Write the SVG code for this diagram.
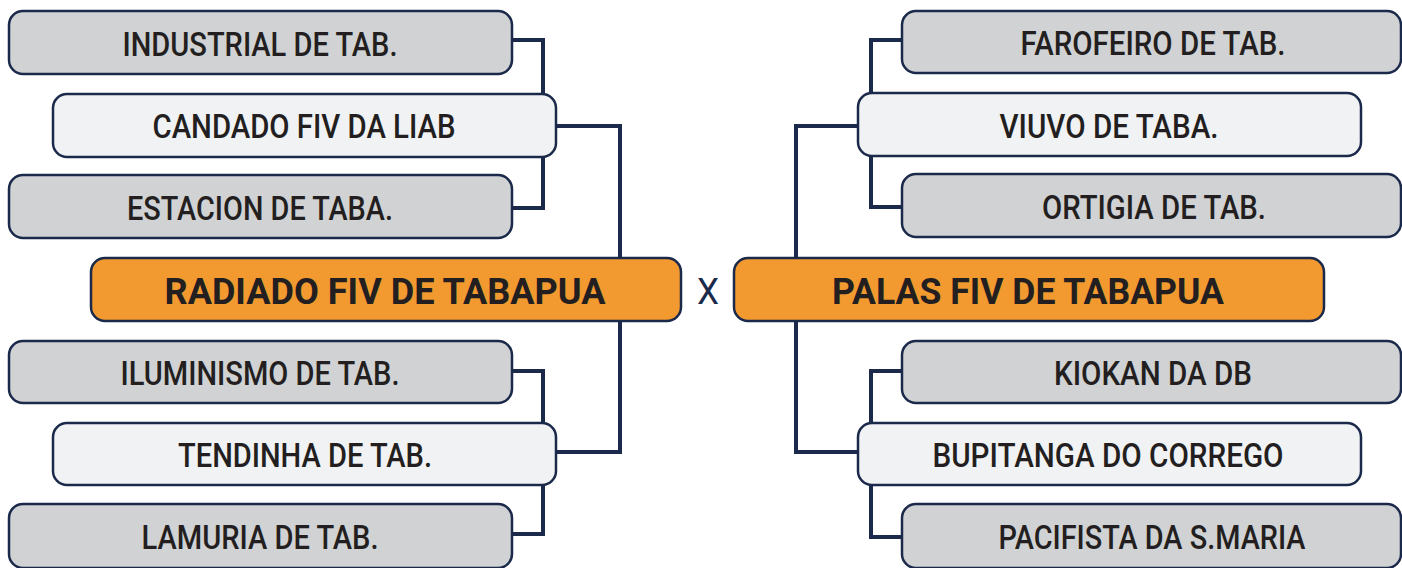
<svg xmlns="http://www.w3.org/2000/svg" width="1402" height="568" viewBox="0 0 1402 568">
<style>
.box{stroke:#1b2a4a;stroke-width:2.5}
.g{fill:#d1d2d4}
.l{fill:#f1f2f4}
.o{fill:#f29a30}
.t{font-family:Roboto,"Liberation Sans",Arial,sans-serif;font-size:33.5px;font-weight:500;fill:#231f20;text-anchor:middle}
.b{font-family:Roboto,"Liberation Sans",Arial,sans-serif;font-size:37px;font-weight:bold;fill:#231f20;text-anchor:middle}
.c{fill:none;stroke:#1b2a4a;stroke-width:4}
</style>
<rect width="1402" height="568" fill="#ffffff"/>
<g id="connectors">
<polyline class="c" points="512,40 543,40 543,95"/>
<polyline class="c" points="512,208 543,208 543,156"/>
<polyline class="c" points="556,126 620,126 620,259"/>
<polyline class="c" points="620,320 620,452 556,452"/>
<polyline class="c" points="512,371 543,371 543,424"/>
<polyline class="c" points="512,534 543,534 543,484"/>
<polyline class="c" points="902,40 871,40 871,94"/>
<polyline class="c" points="902,207 871,207 871,155"/>
<polyline class="c" points="858,126 796,126 796,259"/>
<polyline class="c" points="796,320 796,452 858,452"/>
<polyline class="c" points="902,371 871,371 871,424"/>
<polyline class="c" points="902,537 871,537 871,484"/>
</g>
<g id="n-industrial"><rect class="box g" x="9" y="11" width="503" height="63" rx="14"/><text class="t" x="260" y="56" textLength="275" lengthAdjust="spacingAndGlyphs">INDUSTRIAL DE TAB.</text></g>
<g id="n-candado"><rect class="box l" x="53" y="94" width="503" height="63" rx="14"/><text class="t" x="304" y="138" textLength="303" lengthAdjust="spacingAndGlyphs">CANDADO FIV DA LIAB</text></g>
<g id="n-estacion"><rect class="box g" x="9" y="175" width="503" height="63" rx="14"/><text class="t" x="260" y="220" textLength="266" lengthAdjust="spacingAndGlyphs">ESTACION DE TABA.</text></g>
<g id="n-radiado"><rect class="box o" x="91" y="258" width="590" height="63" rx="14"/><text class="b" x="385" y="304" textLength="441" lengthAdjust="spacingAndGlyphs">RADIADO FIV DE TABAPUA</text></g>
<g id="n-iluminismo"><rect class="box g" x="9" y="341" width="503" height="62" rx="14"/><text class="t" x="260" y="385" textLength="279" lengthAdjust="spacingAndGlyphs">ILUMINISMO DE TAB.</text></g>
<g id="n-tendinha"><rect class="box l" x="53" y="423" width="503" height="62" rx="14"/><text class="t" x="305" y="467" textLength="254" lengthAdjust="spacingAndGlyphs">TENDINHA DE TAB.</text></g>
<g id="n-lamuria"><rect class="box g" x="9" y="504" width="503" height="64" rx="14"/><text class="t" x="260" y="549" textLength="237" lengthAdjust="spacingAndGlyphs">LAMURIA DE TAB.</text></g>
<g id="vs"><text x="708" y="304" font-family="Roboto,Liberation Sans,Arial,sans-serif" font-size="37" fill="#1b2a4a" text-anchor="middle" textLength="22" lengthAdjust="spacingAndGlyphs">X</text></g>
<g id="n-farofeiro"><rect class="box g" x="902" y="11" width="499" height="62" rx="14"/><text class="t" x="1153" y="55" textLength="265" lengthAdjust="spacingAndGlyphs">FAROFEIRO DE TAB.</text></g>
<g id="n-viuvo"><rect class="box l" x="858" y="93" width="503" height="63" rx="14"/><text class="t" x="1109" y="138" textLength="219" lengthAdjust="spacingAndGlyphs">VIUVO DE TABA.</text></g>
<g id="n-ortigia"><rect class="box g" x="902" y="174" width="499" height="63" rx="14"/><text class="t" x="1154" y="219" textLength="224" lengthAdjust="spacingAndGlyphs">ORTIGIA DE TAB.</text></g>
<g id="n-palas"><rect class="box o" x="734" y="258" width="590" height="63" rx="14"/><text class="b" x="1028" y="304" textLength="392" lengthAdjust="spacingAndGlyphs">PALAS FIV DE TABAPUA</text></g>
<g id="n-kiokan"><rect class="box g" x="902" y="341" width="499" height="62" rx="14"/><text class="t" x="1153" y="385" textLength="198" lengthAdjust="spacingAndGlyphs">KIOKAN DA DB</text></g>
<g id="n-bupitanga"><rect class="box l" x="858" y="423" width="503" height="62" rx="14"/><text class="t" x="1108" y="467" textLength="351" lengthAdjust="spacingAndGlyphs">BUPITANGA DO CORREGO</text></g>
<g id="n-pacifista"><rect class="box g" x="902" y="504" width="499" height="64" rx="14"/><text class="t" x="1152" y="549" textLength="307" lengthAdjust="spacingAndGlyphs">PACIFISTA DA S.MARIA</text></g>
</svg>
